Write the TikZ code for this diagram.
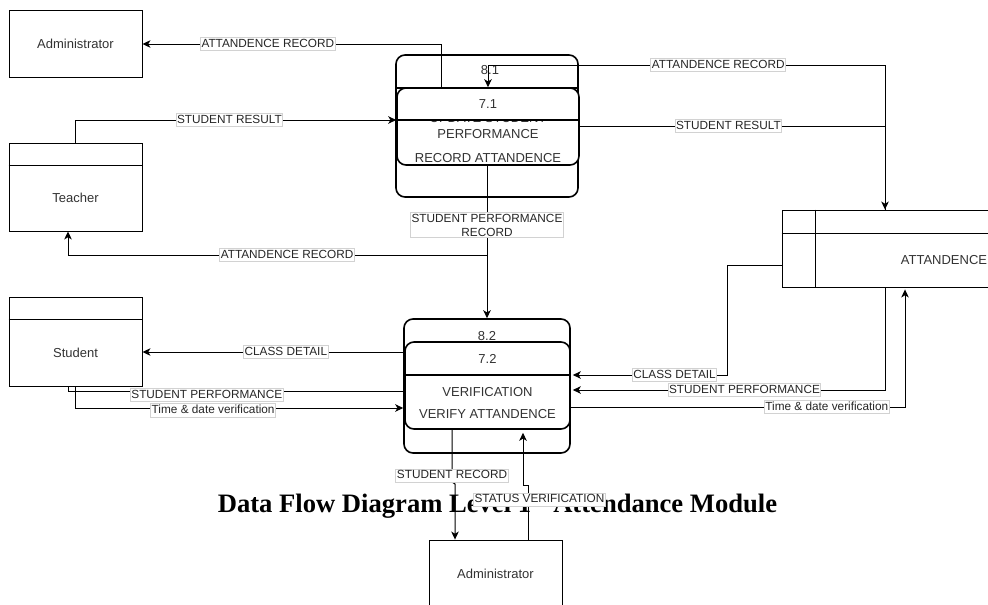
\documentclass[tikz,border=0pt]{standalone}
\usepackage{fontspec}
\setmainfont{Liberation Serif}
\newfontfamily\arial{Liberation Sans}
\usetikzlibrary{arrows.meta}
\begin{document}
\begin{tikzpicture}[x=1pt,y=-1pt,
  every node/.style={font=\arial\fontsize{13}{15}\selectfont, text=black!80},
  entity/.style={draw, line width=0.9pt, fill=white, minimum width=133pt, inner sep=0pt},
  proc/.style={draw, line width=1.6pt, rounded corners=9pt, fill=white, inner sep=0pt},
  procline/.style={line width=1.6pt},
  lbl/.style={draw=gray!35, fill=white, font=\arial\fontsize{11.8}{13}\selectfont,
    inner sep=1pt, text height=8.6pt, text depth=2.6pt, text=black!85},
  lbltwo/.style={draw=gray!35, fill=white, font=\arial\fontsize{11.8}{13.5}\selectfont,
    inner sep=1.5pt, align=center, text=black!85},
  flow/.style={line width=1pt},
  arr/.style={flow, -{Stealth[length=8pt,width=7.5pt,inset=2.2pt]}},
]
\useasboundingbox (0,0) rectangle (988,605);
\clip (0,0) rectangle (988,605);

% external entities
\node[entity, minimum height=67pt] (admin1) at (75.5,43.5) {};
\node (admin1txt) at (75.5,44) {Administrator};

\node[entity, minimum height=88pt] (teacher) at (75.5,187) {};
\draw[line width=0.9pt] (teacher.west |- 0,165) -- (teacher.east |- 0,165);
\node (teachertxt) at (75.5,198) {Teacher};

\node[entity, minimum height=89pt] (student) at (75.5,341.5) {};
\draw[line width=0.9pt] (student.west |- 0,319) -- (student.east |- 0,319);
\node (studenttxt) at (75.5,353) {Student};

\node[entity, minimum height=68pt] (admin2) at (495.5,574) {};
\node (admin2txt) at (495.5,574) {Administrator};

% data store
\node[entity, minimum width=228pt, minimum height=77pt] (store) at (896,248.5) {};
\draw[line width=0.9pt] (store.west |- 0,233) -- (store.east |- 0,233);
\draw[line width=0.9pt] (store.north -| 815,0) -- (store.south -| 815,0);
\node (storetxt) at (944,260) {ATTANDENCE};

% process 8.1 / 7.1
\node[proc, minimum width=182pt, minimum height=142pt] (p81) at (487,126) {};
\node (p81id) at (490,70.5) {8.1};
\node[proc, minimum width=182pt, minimum height=77pt] (p71) at (488,126.5) {};
\draw[procline] (p81.west |- 0,88) -- (p81.east |- 0,88);
\draw[procline] (p71.west |- 0,120) -- (p71.east |- 0,120);
\node (p71id) at (488,104) {7.1};
\begin{scope}
  \clip (397,121.5) rectangle (579,165);
  \node (p71a) at (488,118) {UPDATE STUDENT};
\end{scope}
\node (p71b) at (488,134) {PERFORMANCE};
\node (p81txt) at (488,158) {RECORD ATTANDENCE};

% process 8.2 / 7.2
\node[proc, minimum width=166pt, minimum height=134pt] (p82) at (487,386) {};
\node (p82id) at (487,336.5) {8.2};
\node[proc, minimum width=165pt, minimum height=87pt] (p72) at (487.5,385.5) {};
\draw[procline] (p72.west |- 0,375) -- (p72.east |- 0,375);
\node (p72id) at (487.5,359) {7.2};
\node (p72txt) at (487.5,392) {VERIFICATION};
\node (p82txt) at (487.5,414) {VERIFY ATTANDENCE};

% title
\node[font=\rmfamily\bfseries\fontsize{26.6}{30}\selectfont, text=black, anchor=base, inner sep=0pt]
  (title) at (497.5,512) {Data Flow Diagram Level 1 - Attendance Module};

% data flows around 8.1 / 7.1
\draw[arr] (p71.north -| 441,0) -- (441,44) -- node[lbl,pos=0.58]{ATTANDENCE RECORD} (admin1.east |- 0,44);
\draw[arr] (teacher.north) -- (75.5,120) -- node[lbl,pos=0.48]{STUDENT RESULT} (p71.west |- 0,120);
\draw[arr] (p71.east |- 0,126) -- node[lbl,pos=0.487]{STUDENT RESULT} (885,126) -- (store.north -| 885,0);
\draw[arr] (store.north -| 885,0) -- (885,65) -- node[lbl,pos=0.42]{ATTANDENCE RECORD} (488,65) -- (p71.north -| 488,0);
\coordinate (split) at (487,255);
\draw[arr] (p71.south -| 487,0) -- node[lbltwo,pos=0.39]{STUDENT PERFORMANCE\\RECORD} (p82.north -| 487,0);
\draw[arr] (split) -- node[lbl,pos=0.477]{ATTANDENCE RECORD} (68,255) -- (teacher.south -| 68,0);

% data flows around 8.2 / 7.2
\draw[arr] (p82.west |- 0,352) -- node[lbl,pos=0.45]{CLASS DETAIL} (student.east |- 0,352);
\draw[flow] (p82.west |- 0,391) -- node[lbl,pos=0.586,yshift=-4pt]{STUDENT PERFORMANCE} (68,391) -- (student.south -| 68,0);
\draw[arr] (student.south) -- (75.5,408) -- node[lbl,pos=0.42,yshift=-2.5pt]{Time \& date verification} (p82.west |- 0,408);
\draw[arr] (store.west |- 0,265) -- (727,265) -- (727,375) -- node[lbl,pos=0.34]{CLASS DETAIL} ([xshift=2pt]p82.east |- 0,375);
\draw[arr] (store.south -| 885,0) -- (885,390) -- node[lbl,pos=0.45]{STUDENT PERFORMANCE} ([xshift=2pt]p82.east |- 0,390);
\draw[arr] (p82.east |- 0,407) -- node[lbl,pos=0.766]{Time \& date verification} (905,407) -- ([yshift=-2pt]store.south -| 905,0);

% flows to and from the lower administrator
\draw[arr] (p72.south -| 452,0) -- node[lbl,pos=0.88]{STUDENT RECORD} (452,482) -- (455,484) -- (admin2.north -| 455,0);
\draw[arr] (admin2.north -| 528,0) -- node[lbl,pos=0.727,xshift=11.5pt]{STATUS VERIFICATION} (528,485) -- (523,485) -- ([yshift=-3pt]p72.south -| 523,0);
\end{tikzpicture}
\end{document}
